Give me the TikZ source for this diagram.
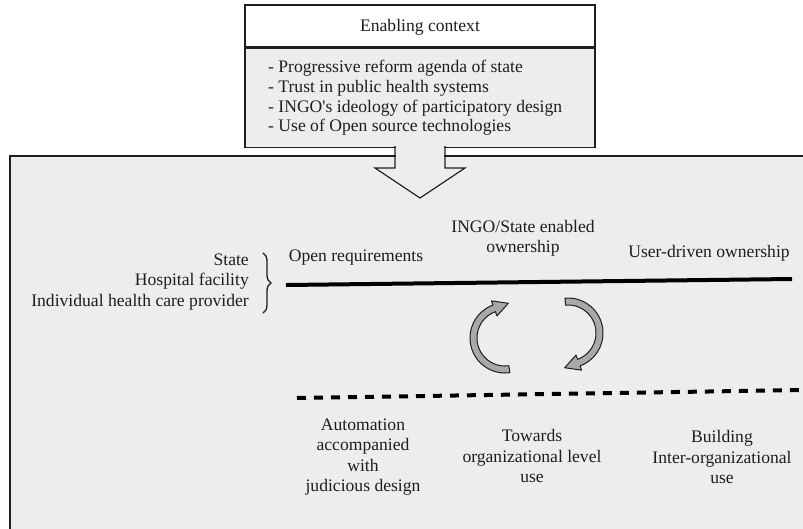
\documentclass[tikz,border=0pt]{standalone}
\usepackage{fontspec}
\setmainfont{Liberation Serif}
\usetikzlibrary{decorations.pathreplacing}
\definecolor{boxgray}{HTML}{EDEDED}
\definecolor{arrgray}{HTML}{A9A9A9}
\definecolor{ink}{HTML}{1E1E1E}
\newcommand\cycarrow[4]{%
  \filldraw[cyc] plot[domain=#3:#4,samples=40] ({#1+35*cos(\x)},{#2+35*sin(\x)})
    -- ({#1+39.5*cos(#4)},{#2+39.5*sin(#4)})
    -- ({#1+31.5*cos(#4)-15*sin(#4)},{#2+31.5*sin(#4)+15*cos(#4)})
    -- ({#1+23.5*cos(#4)},{#2+23.5*sin(#4)})
    -- plot[domain=#4:#3,samples=40] ({#1+28*cos(\x)},{#2+28*sin(\x)}) -- cycle;}
\begin{document}
\begin{tikzpicture}[x=1pt,y=-1pt,
  txt/.style={font=\fontsize{17.6}{20.3}\selectfont, text=ink, inner sep=0pt},
  border/.style={draw=ink, line width=1.2pt},
  cyc/.style={fill=arrgray, draw=ink, line width=1pt, line join=round},
  solidln/.style={draw=black, line width=4pt},
  dashln/.style={draw=black, line width=4pt, dash pattern=on 9pt off 8pt}]
\useasboundingbox (0,0) rectangle (803,528);
\clip (0,0) rectangle (803,528);
% big panel
\fill[boxgray] (10,156) rectangle (815,540);
\draw[border] (815,156) -- (10,156) -- (10,540);
% enabling context box
\node[border, fill=white, minimum width=350pt, minimum height=42pt, inner sep=0pt] (hdr) at (420,26) {};
\node[txt] (hdrtxt) at (420,27) {Enabling context};
\node[border, fill=boxgray, minimum width=350pt, minimum height=99pt, inner sep=0pt, anchor=north] (ctx) at (hdr.south) {};
\node[txt, anchor=west, align=left, font=\fontsize{17.6}{19.7}\selectfont] (ctxtxt) at (268,98)
  {- Progressive reform agenda of state\\- Trust in public health systems\\- INGO\textquotesingle s ideology of participatory design\\- Use of Open source technologies};
% big arrow
\coordinate (shl) at (395,146);
\coordinate (shr) at (445,146);
\fill[boxgray] (395.8,144) -- (395.8,168.8) -- (377,168.8) -- (420,197) -- (463,168.8) -- (444.2,168.8) -- (444.2,144) -- cycle;
\draw[border, line join=miter] (shl) -- (395,168) -- (375,168) -- (420,198) -- (465,168) -- (445,168) -- (shr);
% left labels with brace
\node[txt, anchor=east, align=right] (levels) at (249,282) {State\\Hospital facility\\Individual health care provider};
\coordinate (bt) at (263,253);
\coordinate (bb) at (263,313);
\draw[ink, line width=1.3pt, line cap=round, decorate, decoration={brace, amplitude=8pt}] (bt) -- (bb);
% solid line and labels
\coordinate (sl) at (286,285);
\coordinate (sr) at (792,279);
\draw[solidln] (sl) -- (sr);
\node[txt] (openreq) at (356,258) {Open requirements};
\node[txt, align=center] (ingo) at (523,238) {INGO/State enabled\\ownership};
\node[txt] (user) at (709,253) {User-driven ownership};
% cycle arrows
\cycarrow{505}{338}{82}{250}
\cycarrow{568}{333}{265}{430}
% dashed line and labels
\coordinate (dl) at (297,398);
\coordinate (dr) at (803,390);
\draw[dashln] (dl) -- (dr);
\node[txt, align=center] (auto) at (363,457) {Automation\\accompanied\\with\\judicious design};
\node[txt, align=center] (towards) at (532,456) {Towards\\organizational level\\use};
\node[txt, align=center] (build) at (722,457) {Building\\Inter-organizational\\use};
\end{tikzpicture}
\end{document}
